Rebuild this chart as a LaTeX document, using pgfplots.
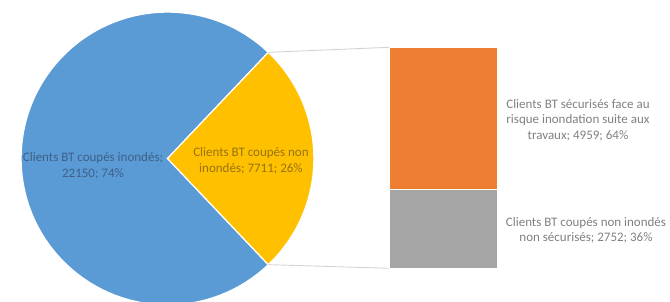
\documentclass[border=0pt]{standalone}
\usepackage{pgfplots}
\pgfplotsset{compat=1.18}
\usepackage{pgfplotstable}
\usepackage{fontspec}
\setmainfont{Carlito}

\definecolor{pieblue}{HTML}{5B9BD5}
\definecolor{pieyellow}{HTML}{FFC000}
\definecolor{barorange}{HTML}{ED7D31}
\definecolor{bargray}{HTML}{A5A5A5}
\definecolor{bluelbl}{HTML}{3E5F88}
\definecolor{yellowlbl}{HTML}{967312}
\definecolor{graylbl}{HTML}{808080}
\definecolor{connector}{HTML}{D4D4D4}

\pgfplotstableread{
label value
inondes 22150
noninondes 7711
}\piedata

\pgfplotstableread{
x sec nonsec
1 4959 2752
}\bardata

\begin{document}
\begin{tikzpicture}
\useasboundingbox (0,0) rectangle (670bp,302bp);
\pgfplotstablegetelem{0}{value}\of\piedata \let\va\pgfplotsretval
\pgfplotstablegetelem{1}{value}\of\piedata \let\vb\pgfplotsretval
\edef\half{\fpeval{180*\vb/(\va+\vb)}}
\edef\bluestart{\half}
\edef\blueend{\fpeval{360-\half}}

% pie
\begin{axis}[at={(167.5bp,143.5bp)}, anchor=center, scale only axis,
  width=292.8bp, height=292.8bp, xmin=-1, xmax=1, ymin=-1, ymax=1,
  hide axis, clip=false]
\fill[pieblue, draw=white, line width=1.2bp] (axis cs:0,0) -- (axis cs:{cos(\bluestart)},{sin(\bluestart)})
  arc[start angle=\bluestart, end angle=\blueend, radius=146.4bp] -- cycle;
\fill[pieyellow, draw=white, line width=1.2bp] (axis cs:0,0) -- (axis cs:{cos(-\half)},{sin(-\half)})
  arc[start angle=-\half, end angle=\half, radius=146.4bp] -- cycle;
\coordinate (ptop) at (axis cs:{cos(\half)},{sin(\half)});
\coordinate (pbot) at (axis cs:{cos(\half)},{-sin(\half)});
\end{axis}

% bar of pie
\begin{axis}[at={(389bp,33.7bp)}, anchor=south west, scale only axis,
  width=109bp, height=221bp, xmin=0.5, xmax=1.5, ymin=0, ymax=7711,
  hide axis, ybar stacked, bar width=109bp, bar shift=0pt, clip=false]
\addplot[fill=bargray, draw=white, line width=1.2bp] table[x=x, y=nonsec]{\bardata};
\addplot[fill=barorange, draw=white, line width=1.2bp] table[x=x, y=sec]{\bardata};
\coordinate (btop) at (axis cs:0.5,7711);
\coordinate (bbot) at (axis cs:0.5,0);
\end{axis}

\draw[connector, line width=0.9bp] (ptop) -- (btop);
\draw[connector, line width=0.9bp] (pbot) -- (bbot);

\tikzset{lbl/.style={align=center, inner sep=0pt, font=\fontsize{13bp}{15.5bp}\selectfont}}
\node[lbl, text=bluelbl] at (93bp,136bp) {Clients BT coupés inondés;\\22150; 74\%};
\node[lbl, text=yellowlbl] at (251bp,141bp) {Clients BT coupés non\\inondés; 7711; 26\%};
\node[lbl, text=graylbl] at (578bp,182bp) {Clients BT sécurisés face au\\risque inondation suite aux\\travaux; 4959; 64\%};
\node[lbl, text=graylbl] at (586bp,71.5bp) {Clients BT coupés non inondés\\non sécurisés; 2752; 36\%};
\end{tikzpicture}
\end{document}
